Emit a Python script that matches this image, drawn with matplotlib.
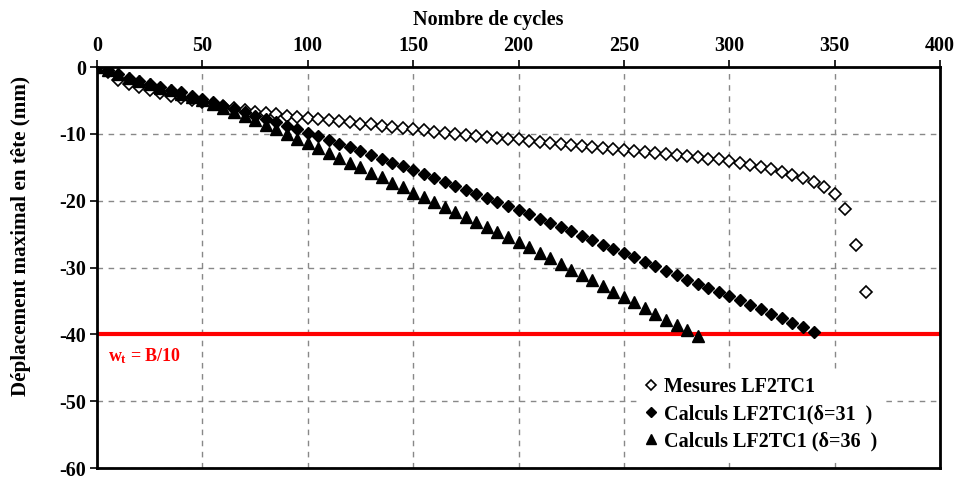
import numpy as np
import matplotlib.pyplot as plt

plt.rcParams['font.family'] = ['Liberation Serif', 'DejaVu Serif']
plt.rcParams['font.weight'] = 'bold'
plt.rcParams['axes.unicode_minus'] = False
plt.rcParams['mathtext.fontset'] = 'custom'
plt.rcParams['mathtext.rm'] = 'Liberation Serif:bold'
plt.rcParams['mathtext.bf'] = 'Liberation Serif:bold'
plt.rcParams['mathtext.it'] = 'Liberation Serif:bold'

# Mesures LF2TC1 (toutes les 5 cycles jusqu'a 350, puis 355, 360, 365)
cycles_mes = list(range(0, 355, 5)) + [355, 360, 365]
dep_mes = [0, -0.8, -2.0, -2.5, -3.0, -3.5, -3.9, -4.3, -4.7, -5.0,
           -5.3, -5.6, -5.9, -6.2, -6.4, -6.7, -6.9, -7.1, -7.3, -7.5,
           -7.6, -7.8, -8.0, -8.1, -8.3, -8.5, -8.6, -8.8, -9.0, -9.2,
           -9.3, -9.5, -9.7, -9.8, -10.0, -10.1, -10.3, -10.4, -10.6, -10.7,
           -10.8, -11.0, -11.2, -11.3, -11.5, -11.7, -11.8, -12.0, -12.1, -12.3,
           -12.4, -12.6, -12.7, -12.9, -13.0, -13.2, -13.3, -13.5, -13.7, -13.8,
           -14.0, -14.3, -14.6, -15.0, -15.3, -15.7, -16.1, -16.6, -17.2, -18.0,
           -19.0, -21.3, -26.7, -33.6]

# Calculs LF2TC1 (delta=31)
cycles_c31 = list(range(0, 345, 5))
dep_c31 = [0, -0.5, -1.1, -1.6, -2.1, -2.6, -3.0, -3.4, -3.8, -4.3,
           -4.8, -5.3, -5.8, -6.3, -6.8, -7.3, -7.8, -8.3, -8.8, -9.3,
           -9.8, -10.3, -10.9, -11.5, -12.0, -12.6, -13.1, -13.7, -14.3, -14.8,
           -15.4, -16.0, -16.6, -17.2, -17.8, -18.4, -19.0, -19.6, -20.2, -20.8,
           -21.4, -22.0, -22.7, -23.3, -24.0, -24.6, -25.3, -25.9, -26.6, -27.2,
           -27.9, -28.5, -29.2, -29.8, -30.5, -31.1, -31.8, -32.4, -33.1, -33.7,
           -34.3, -34.9, -35.6, -36.2, -36.9, -37.6, -38.3, -38.9, -39.6]

# Calculs LF2TC1 (delta=36)
cycles_c36 = list(range(0, 290, 5))
dep_c36 = [0, -0.5, -1.1, -1.6, -2.1, -2.6, -3.1, -3.5, -4.0, -4.5,
           -5.0, -5.6, -6.2, -6.8, -7.4, -8.0, -8.7, -9.3, -10.0, -10.7,
           -11.4, -12.1, -12.8, -13.6, -14.3, -15.0, -15.8, -16.5, -17.3, -18.0,
           -18.8, -19.5, -20.2, -21.0, -21.7, -22.4, -23.2, -23.9, -24.7, -25.4,
           -26.2, -27.0, -27.8, -28.6, -29.5, -30.3, -31.1, -31.9, -32.7, -33.6,
           -34.4, -35.2, -36.1, -36.9, -37.8, -38.6, -39.4, -40.2]

w_lim = -40

fig = plt.figure(figsize=(9.57, 4.8), dpi=100)
ax = fig.add_axes([0.1014, 0.025, 0.8808, 0.8354])

ax.axhline(w_lim, color='#ff0000', lw=3, zorder=2)
ax.plot(cycles_mes, dep_mes, ls='none', marker='D', ms=6.2, mfc='white',
        mec='black', mew=1.2, label='Mesures LF2TC1', zorder=3)
ax.plot(cycles_c31, dep_c31, ls='none', marker='D', ms=6.2, color='black',
        label='Calculs LF2TC1(δ=31  )', zorder=4)
ax.plot(cycles_c36, dep_c36, ls='none', marker='^', ms=8.6, color='black',
        label='Calculs LF2TC1 (δ=36  )', zorder=3)

ax.text(5.2, -44, r'$w_t$ = B/10', color='#ff0000', fontsize=13,
        fontweight='bold', va='baseline')

ax.set_xlim(0, 400)
ax.set_ylim(-60, 0)
ax.set_xticks(np.arange(0, 401, 50))
ax.set_yticks(np.arange(-60, 1, 10))
ax.xaxis.tick_top()
ax.xaxis.set_label_position('top')
ax.set_xlabel('Nombre de cycles', fontsize=14.5, fontweight='bold', labelpad=2)
ax.xaxis.set_label_coords(0.464, 1.105)
ax.set_ylabel('Déplacement maximal en tête (mm)', fontsize=15.2,
              fontweight='bold')
ax.yaxis.set_label_coords(-0.078, 0.579)
ax.tick_params(labelsize=14.5, direction='out', length=5, width=1.2, pad=3)
ax.grid(True, ls=(0, (4, 4)), color='#888888', lw=1)
ax.set_axisbelow(True)
for s in ax.spines.values():
    s.set_linewidth(2)

leg = ax.legend(loc='upper left', bbox_to_anchor=(0.642, 0.242), frameon=True,
                fontsize=14.5, handlelength=0.7, handletextpad=0.3,
                labelspacing=0.36, borderpad=0.3, borderaxespad=0,
                markerscale=0.85)
leg.get_frame().set_edgecolor('none')
leg.get_frame().set_facecolor('white')
leg.get_frame().set_alpha(1)
leg.get_frame().set_boxstyle('square', pad=0)

fig.savefig('out.png', dpi=100)
